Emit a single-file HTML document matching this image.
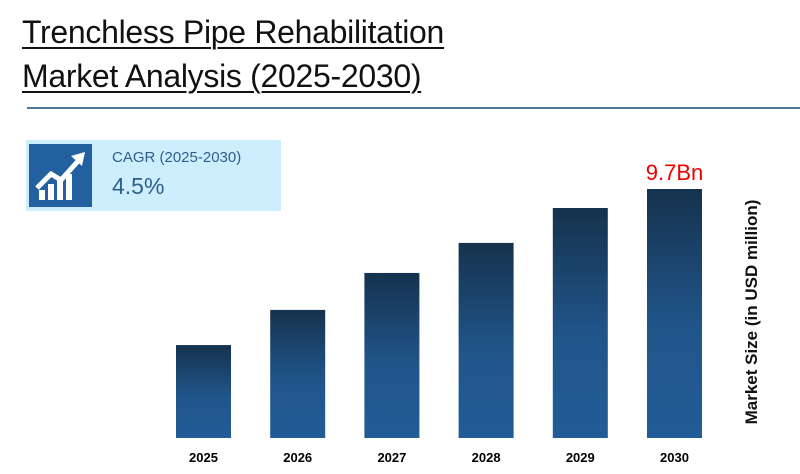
<!DOCTYPE html>
<html><head><meta charset="utf-8"><style>
body{margin:0;width:800px;height:474px;background:#fff;overflow:hidden;position:relative;font-family:"Liberation Sans",sans-serif}
.t{position:absolute;left:22px;font-size:32px;color:#111;text-decoration:underline;text-decoration-thickness:2px;text-underline-offset:4px;white-space:nowrap;letter-spacing:-0.3px}
</style></head><body>
<div class="t" style="top:14px">Trenchless Pipe Rehabilitation</div>
<div class="t" style="top:58px">Market Analysis (2025-2030)</div>
<div style="position:absolute;left:27px;top:107px;width:773px;height:2px;background:#4f7896"></div>
<div style="position:absolute;left:26px;top:140px;width:255px;height:71px;background:#cdeefc">
 <div style="position:absolute;left:3px;top:4px;width:63px;height:63px;background:#2260a0">
  <svg width="63" height="63"><g fill="#fff"><rect x="10" y="46" width="6" height="10"/><rect x="19" y="40" width="6" height="16"/><rect x="28" y="36" width="6" height="20"/><rect x="37" y="30" width="6" height="26"/></g><polyline points="8,44 22,30 32,36 50,16" fill="none" stroke="#fff" stroke-width="5"/><polygon points="42,12 56,8 53,22" fill="#fff"/></svg>
 </div>
 <div style="position:absolute;left:86px;top:9px;font-size:15px;color:#2e5f8f">CAGR (2025-2030)</div>
 <div style="position:absolute;left:86px;top:33px;font-size:23px;color:#2e5f8f">4.5%</div>
</div>
<svg id="chart" width="800" height="474" style="position:absolute;left:0;top:0">
<defs><linearGradient id="g" x1="0" y1="0" x2="0" y2="1"><stop offset="0" stop-color="#15324d"/><stop offset="0.55" stop-color="#20558a"/><stop offset="1" stop-color="#225c96"/></linearGradient></defs>
<text x="757" y="312" transform="rotate(-90 757 312)" text-anchor="middle" font-size="17" font-weight="bold" fill="#111">Market Size (in USD million)</text>
</svg>
<script>
const categories=["2025","2026","2027","2028","2029","2030"];
const values=[3.62,4.99,6.43,7.6,8.96,9.7];
const labels=["","","","","","9.7Bn"];
const svg=document.getElementById('chart');
const ns="http://www.w3.org/2000/svg";
const base=438,scale=249/9.7;
const xPos=i=>176+i*94.2;
const yPos=v=>base-v*scale;
categories.forEach((c,i)=>{
 const r=document.createElementNS(ns,'rect');
 r.setAttribute('x',xPos(i));r.setAttribute('y',yPos(values[i]));
 r.setAttribute('width',55);r.setAttribute('height',base-yPos(values[i]));
 r.setAttribute('fill','url(#g)');
 
 
 svg.appendChild(r);
 const t=document.createElementNS(ns,'text');
 t.setAttribute('x',xPos(i)+27.5);t.setAttribute('y',462);
 t.setAttribute('text-anchor','middle');t.setAttribute('font-size','13');t.setAttribute('font-weight','bold');
 t.textContent=c;
 
 
 svg.appendChild(t);
 if(labels[i]){
  const l=document.createElementNS(ns,'text');
  l.setAttribute('x',xPos(i)+27.5);l.setAttribute('y',yPos(values[i])-9);
  l.setAttribute('text-anchor','middle');l.setAttribute('font-size','22');l.setAttribute('fill','#e00');
  l.textContent=labels[i];
  
  
  svg.appendChild(l);
 }
});
</script>
</body></html>
